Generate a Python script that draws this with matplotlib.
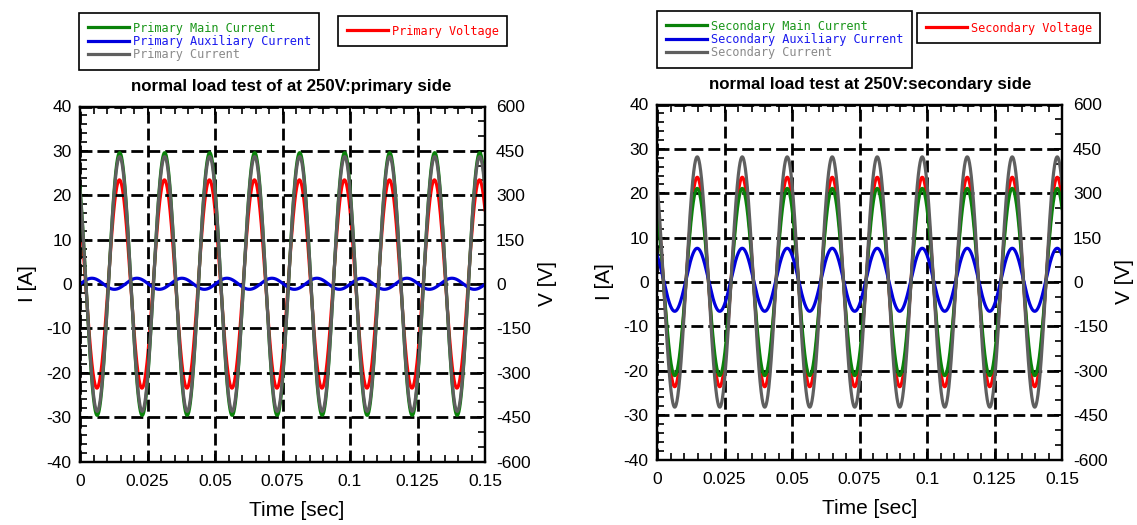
import numpy as np
import matplotlib
matplotlib.use("Agg")
import matplotlib.pyplot as plt
from matplotlib.ticker import MultipleLocator, FixedLocator, FixedFormatter

plt.rcParams['font.family'] = ['Liberation Sans', 'DejaVu Sans']
plt.rcParams['axes.unicode_minus'] = False

# ---------------- data ----------------
FREQ_HZ = 60.0
T_END = 0.15

x_ticks = [0, 0.025, 0.05, 0.075, 0.1, 0.125, 0.15]
x_tick_labels = ['0', '0.025', '0.05', '0.075', '0.1', '0.125', '0.15']
i_ticks = [-40, -30, -20, -10, 0, 10, 20, 30, 40]
v_ticks = [-600, -450, -300, -150, 0, 150, 300, 450, 600]

# primary side: main, auxiliary, total current
primary_labels = ['Primary Main Current', 'Primary Auxiliary Current', 'Primary Current']
primary_amp = [29.6, 1.25, 28.7]          # A (peak)
primary_peak_t = [0.0147, 0.0044, 0.0147]  # s, time of first positive peak
primary_offset = [0.0, 0.05, 0.0]
primary_v_label = 'Primary Voltage'
primary_v_amp = 352.0                      # V (peak)
primary_v_peak_t = 0.0146

# secondary side
secondary_labels = ['Secondary Main Current', 'Secondary Auxiliary Current', 'Secondary Current']
secondary_amp = [21.1, 7.1, 28.2]
secondary_peak_t = [0.0149, 0.0149, 0.0149]
secondary_offset = [0.0, 0.5, 0.0]
secondary_v_label = 'Secondary Voltage'
secondary_v_amp = 354.0
secondary_v_peak_t = 0.0149

titles = ['normal load test of at 250V:primary side',
          'normal load test at 250V:secondary side']

# ---------------- styling ----------------
line_colors = ['#0a820a', '#0000dd', '#5f5f5f']
text_colors = ['#1a961a', '#1a1aee', '#8a8a8a']
v_color = '#ff0000'

W, H = 1137, 525
fig = plt.figure(figsize=(W / 100, H / 100), dpi=100)

t = np.linspace(0, T_END, 3000)
w = 2 * np.pi * FREQ_HZ


def wave(amp, tp, off=0.0):
    return off + amp * np.cos(w * (t - tp))


def make_panel(left_px, top_px, labels, amps, peaks, offs, vlabel, vamp, vpeak, title,
               title_x, xlabel_x):
    ax = fig.add_axes([left_px / W, 1 - (top_px + 355) / H, 405 / W, 355 / H])
    ax2 = ax.twinx()
    ax.set_zorder(ax2.get_zorder() + 1)
    ax.patch.set_visible(False)

    lv, = ax2.plot(t, wave(vamp, vpeak), color=v_color, lw=2.3, label=vlabel)
    handles = []
    for lab, a, p, o, c in zip(labels, amps, peaks, offs, line_colors):
        h, = ax.plot(t, wave(a, p, o), color=c, lw=2.3, label=lab)
        handles.append(h)

    ax.set_xlim(0, T_END)
    ax.set_ylim(-40, 40)
    ax2.set_ylim(-600, 600)
    ax.xaxis.set_major_locator(FixedLocator(x_ticks))
    ax.xaxis.set_major_formatter(FixedFormatter(x_tick_labels))
    ax.xaxis.set_minor_locator(MultipleLocator(0.005))
    ax.yaxis.set_major_locator(FixedLocator(i_ticks))
    ax.yaxis.set_minor_locator(MultipleLocator(2))
    ax2.yaxis.set_major_locator(FixedLocator(v_ticks))
    ax2.yaxis.set_minor_locator(MultipleLocator(50))

    ax.grid(True, which='major', color='k', linestyle=(0, (4.3, 1.8)), linewidth=2)
    ax.tick_params(which='both', direction='in', top=True, right=False, labelsize=12.5)
    ax.tick_params(which='major', length=6, width=1.4)
    ax.tick_params(which='minor', length=5, width=1.2)
    ax.tick_params(axis='x', which='major', pad=9)
    ax.tick_params(axis='y', which='major', pad=6)
    ax2.tick_params(which='both', direction='in', labelsize=12.5)
    ax2.tick_params(which='major', length=6, width=1.4, pad=8)
    ax2.tick_params(which='minor', length=5, width=1.2)
    for a in (ax, ax2):
        for s in a.spines.values():
            s.set_linewidth(1.6)

    ax.set_xlabel('Time [sec]', fontsize=15)
    ax.xaxis.set_label_coords(xlabel_x, -0.112)
    ax.set_ylabel('I [A]', fontsize=15, va='center', ha='center')
    ax.yaxis.set_label_coords(-0.13, 0.5)
    ax2.set_ylabel('V [V]', fontsize=15, va='center', ha='center', rotation=90)
    ax2.yaxis.set_label_coords(1.155, 0.5)

    ax.text(title_x, 1.055, title, transform=ax.transAxes, ha='center', va='center',
            fontsize=12.2, fontweight='bold')
    return ax, handles, lv


legend_kw = dict(loc='upper left', borderaxespad=0, frameon=True, fancybox=False,
                 edgecolor='black', framealpha=1, handlelength=3.5, handletextpad=0.3,
                 borderpad=0.72, labelspacing=0.03,
                 prop={'family': 'DejaVu Sans Mono', 'size': 8.55})

ax_l, h_l, v_l = make_panel(80, 106.5, primary_labels, primary_amp, primary_peak_t,
                            primary_offset, primary_v_label, primary_v_amp,
                            primary_v_peak_t, titles[0], 0.521, 0.535)
ax_r, h_r, v_r = make_panel(657, 104.5, secondary_labels, secondary_amp, secondary_peak_t,
                            secondary_offset, secondary_v_label, secondary_v_amp,
                            secondary_v_peak_t, titles[1], 0.526, 0.525)

for handles, vline, (x0, y0), (vx0, vy0) in [
        (h_l, v_l, (79, 13), (338, 16)),
        (h_r, v_r, (657, 11), (917, 13))]:
    lg = fig.legend(handles=handles, bbox_to_anchor=(x0 / W, 1 - y0 / H),
                    labelcolor=text_colors, **legend_kw)
    lg.get_frame().set_linewidth(1.2)
    lg2 = fig.legend(handles=[vline], bbox_to_anchor=(vx0 / W, 1 - vy0 / H),
                     labelcolor=[v_color], **legend_kw)
    lg2.get_frame().set_linewidth(1.2)

fig.savefig('out.png', dpi=100)
